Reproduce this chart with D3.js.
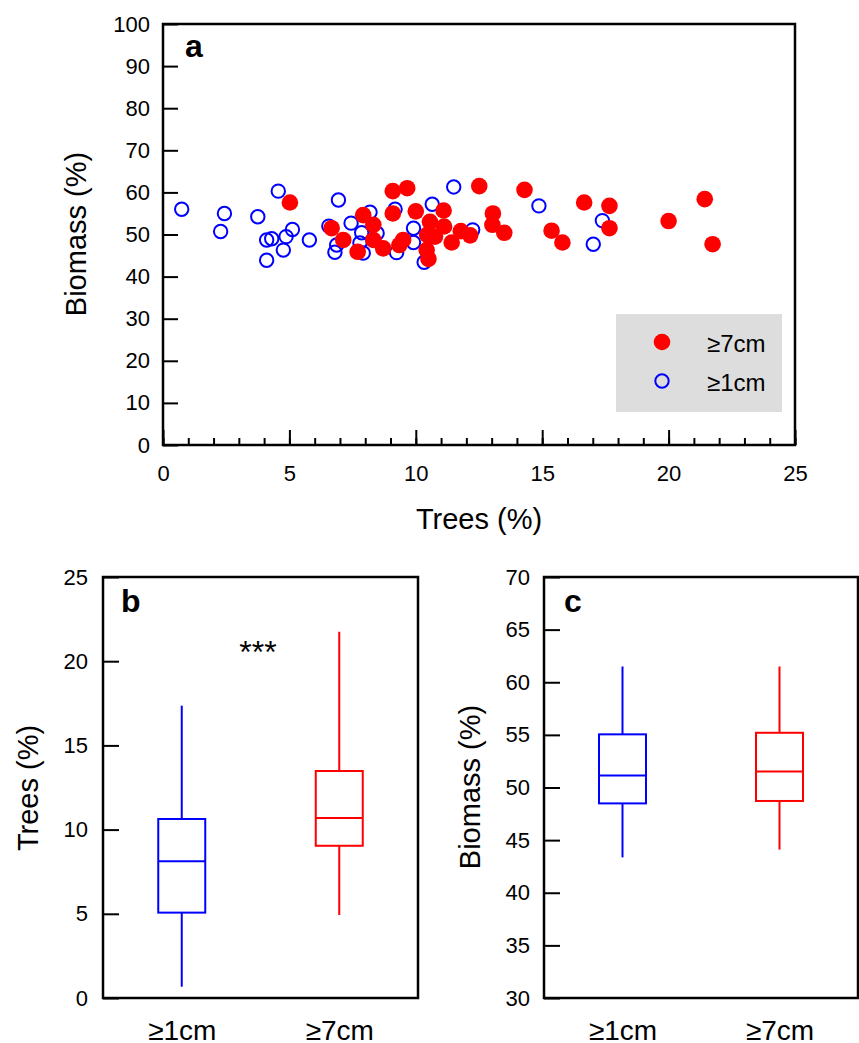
<!DOCTYPE html>
<html>
<head>
<meta charset="utf-8">
<script src="https://cdn.jsdelivr.net/npm/d3@7"></script>
<style>
  body { margin: 0; background: #fff; }
  svg { display: block; font-family: "Liberation Sans", Arial, sans-serif; }
</style>
</head>
<body>
<div id="chart"></div>
<script>
// scatter data, panel a (x = trees %, y = biomass %)
const treesRed = [5.02, 6.67, 7.13, 7.70, 7.92, 8.32, 8.32, 8.71, 9.09, 9.09, 9.35, 9.50, 9.66,
  10.00, 10.56, 10.45, 10.76, 10.43, 10.50, 11.10, 11.12, 11.42, 11.78, 12.15, 12.51, 13.05,
  13.03, 13.50, 14.30, 15.37, 15.80, 16.66, 17.66, 17.66, 20.00, 21.43, 21.74];
const biomassRed = [57.6, 51.5, 48.7, 45.9, 54.6, 52.3, 48.7, 46.7, 60.3, 55.0, 47.5, 48.7, 61.0,
  55.5, 53.0, 49.9, 49.5, 46.3, 44.2, 55.7, 51.9, 48.1, 50.8, 49.8, 61.5, 55.0,
  52.3, 50.4, 60.6, 50.9, 48.1, 57.6, 56.8, 51.5, 53.2, 58.4, 47.7];

const treesBlue = [0.74, 2.43, 2.28, 3.75, 4.56, 4.10, 4.30, 4.10, 4.76, 4.87, 5.12, 5.79, 6.94,
  6.56, 7.44, 6.87, 6.80, 8.19, 7.86, 7.79, 7.92, 8.47, 9.18, 9.24, 9.91, 9.91, 10.33,
  10.65, 11.50, 12.25, 14.87, 17.02, 17.38];
const biomassBlue = [56.0, 55.0, 50.7, 54.2, 60.3, 48.7, 49.0, 43.9, 46.3, 49.5, 51.2, 48.7, 58.2,
  52.0, 52.7, 47.5, 45.8, 55.3, 50.4, 48.0, 45.6, 50.3, 56.0, 45.7, 51.5, 48.1, 43.4,
  57.2, 61.3, 51.1, 56.8, 47.7, 53.3];

// box plot data, panels b and c
const groups = ["\u22651cm", "\u22657cm"];
const groupColors = ["#0000ff", "#ff0000"];
const treesMin = [0.67, 4.93], treesQ1 = [5.07, 9.04], treesMed = [8.12, 10.69],
      treesQ3 = [10.63, 13.48], treesMax = [17.36, 21.75];
const bioMin = [43.36, 44.1], bioQ1 = [48.49, 48.72], bioMed = [51.15, 51.53],
      bioQ3 = [55.05, 55.2], bioMax = [61.5, 61.5];

const legendLabels = ["\u22657cm", "\u22651cm"];

const svg = d3.select("#chart").append("svg")
    .attr("width", 859)
    .attr("height", 1043);

const tickFont = 22, labelFont = 29;

function styleAxis(g) {
  g.select(".domain").remove();
  g.selectAll("line").attr("stroke", "#000").attr("stroke-width", 2);
  g.selectAll("text").attr("font-size", tickFont).attr("fill", "#000")
    .attr("font-family", "Liberation Sans, Arial, sans-serif");
}

function frame(x0, y0, x1, y1) {
  svg.append("rect")
    .attr("x", x0).attr("y", y0)
    .attr("width", x1 - x0).attr("height", y1 - y0)
    .attr("fill", "none").attr("stroke", "#000").attr("stroke-width", 2.5);
}

function panelLetter(txt, x, y) {
  svg.append("text").attr("x", x).attr("y", y)
    .attr("font-size", 32).attr("font-weight", "bold").text(txt);
}

function yLabel(txt, x, y) {
  svg.append("text")
    .attr("transform", `translate(${x},${y}) rotate(-90)`)
    .attr("text-anchor", "middle")
    .attr("font-size", labelFont)
    .text(txt);
}

// ---------- panel a: scatter ----------
const xa = d3.scaleLinear().domain([0, 25]).range([163, 795]);
const ya = d3.scaleLinear().domain([0, 100]).range([445, 24]);

svg.append("g")
  .attr("transform", "translate(0,445)")
  .call(d3.axisBottom(xa).tickValues(d3.range(0, 26, 1)).tickSize(-7).tickFormat(""))
  .call(styleAxis);
svg.append("g")
  .attr("transform", "translate(0,445)")
  .call(d3.axisBottom(xa).tickValues(d3.range(0, 26, 5)).tickSize(-15).tickPadding(20))
  .call(styleAxis);
svg.append("g")
  .attr("transform", "translate(163,0)")
  .call(d3.axisLeft(ya).tickValues(d3.range(0, 101, 10)).tickSize(-15).tickPadding(13))
  .call(styleAxis);

// legend box
svg.append("rect").attr("x", 616).attr("y", 314).attr("width", 166).attr("height", 98)
  .attr("fill", "#dddddd");

const blueData = treesBlue.map((t, i) => [t, biomassBlue[i]]);
const redData = treesRed.map((t, i) => [t, biomassRed[i]]);

svg.append("g").selectAll("circle").data(blueData).join("circle")
  .attr("cx", d => xa(d[0])).attr("cy", d => ya(d[1])).attr("r", 6.7)
  .attr("fill", "none").attr("stroke", "#0000ff").attr("stroke-width", 2);
svg.append("g").selectAll("circle").data(redData).join("circle")
  .attr("cx", d => xa(d[0])).attr("cy", d => ya(d[1])).attr("r", 8.3)
  .attr("fill", "#ff0000");

frame(163, 24, 795, 445);
panelLetter("a", 185, 57);

// legend entries
svg.append("circle").attr("cx", 662).attr("cy", 342).attr("r", 8.3).attr("fill", "#ff0000");
svg.append("circle").attr("cx", 662).attr("cy", 381).attr("r", 6.7)
  .attr("fill", "none").attr("stroke", "#0000ff").attr("stroke-width", 2);
svg.selectAll(".leg").data(legendLabels).join("text")
  .attr("x", 707).attr("y", (d, i) => 352 + i * 39)
  .attr("font-size", 24).text(d => d);

svg.append("text").attr("x", 479).attr("y", 529).attr("text-anchor", "middle")
  .attr("font-size", labelFont).text("Trees (%)");
yLabel("Biomass (%)", 86, 234);

// ---------- box plot helper ----------
function boxPanel(x0, x1, yDomain, yStep, mins, q1s, meds, q3s, maxs, pad) {
  const x = d3.scalePoint().domain(groups).range([x0, x1]).padding(0.5);
  const y = d3.scaleLinear().domain(yDomain).range([998, 577]);
  const bw = 47;

  svg.append("g")
    .attr("transform", `translate(${x0},0)`)
    .call(d3.axisLeft(y).tickValues(d3.range(yDomain[0], yDomain[1] + 0.1, yStep))
      .tickSize(-16).tickPadding(pad))
    .call(styleAxis);
  svg.append("g")
    .attr("transform", "translate(0,998)")
    .call(d3.axisBottom(x).tickSize(0).tickPadding(22))
    .call(styleAxis)
    .selectAll("text").attr("font-size", 28);

  const g = svg.append("g");
  groups.forEach((grp, i) => {
    const cx = x(grp), col = groupColors[i];
    g.append("line").attr("x1", cx).attr("x2", cx)
      .attr("y1", y(mins[i])).attr("y2", y(q1s[i]))
      .attr("stroke", col).attr("stroke-width", 2);
    g.append("line").attr("x1", cx).attr("x2", cx)
      .attr("y1", y(q3s[i])).attr("y2", y(maxs[i]))
      .attr("stroke", col).attr("stroke-width", 2);
    g.append("rect").attr("x", cx - bw / 2).attr("width", bw)
      .attr("y", y(q3s[i])).attr("height", y(q1s[i]) - y(q3s[i]))
      .attr("fill", "none").attr("stroke", col).attr("stroke-width", 2);
    g.append("line").attr("x1", cx - bw / 2).attr("x2", cx + bw / 2)
      .attr("y1", y(meds[i])).attr("y2", y(meds[i]))
      .attr("stroke", col).attr("stroke-width", 2);
  });
  frame(x0, 577, x1, 998);
}

// ---------- panel b ----------
boxPanel(103, 418, [0, 25], 5, treesMin, treesQ1, treesMed, treesQ3, treesMax, 15);
panelLetter("b", 121, 612);
yLabel("Trees (%)", 38, 788);
svg.append("text").attr("x", 258).attr("y", 663).attr("text-anchor", "middle")
  .attr("font-size", 32).text("***");

// ---------- panel c ----------
boxPanel(544, 858, [30, 70], 5, bioMin, bioQ1, bioMed, bioQ3, bioMax, 14);
panelLetter("c", 564, 612);
yLabel("Biomass (%)", 480, 787);
</script>
</body>
</html>
